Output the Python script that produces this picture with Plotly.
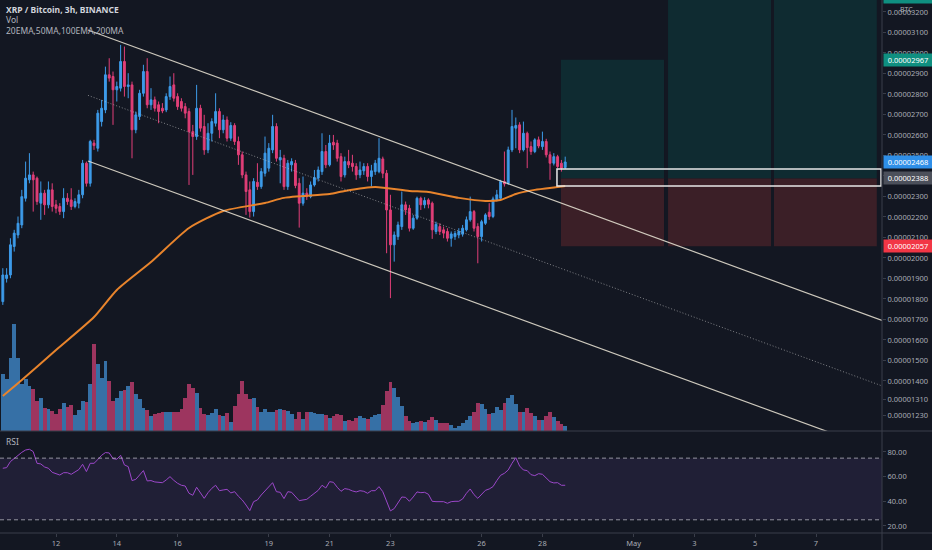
import pandas as pd
import plotly.graph_objects as go

# ---------------- data (prices in units of 1e-8 BTC) ----------------
start_time = "2021-04-10 06:00"
opens = [1787,1900,1917,2056,2112,2161,2291,2381,2405,2389,2267,2316,2259,2332,2259,2251,2226,2291,2283,2251,
         2267,2308,2462,2364,2560,2535,2665,2722,2893,2885,2820,2828,2958,2836,2844,2625,2690,2803,2909,2747,
         2771,2747,2730,2722,2787,2844,2787,2763,2738,2714,2616,2592,2730,2641,2527,2608,2657,2714,2625,2673,
         2584,2646,2568,2503,2405,2332,2226,2369,2348,2413,2438,2527,2641,2478,2486,2348,2454,2462,2364,2267,
         2316,2299,2356,2389,2421,2519,2454,2564,2560,2494,2405,2470,2462,2446,2405,2425,2446,2397,2421,2421,
         2483,2413,2234,2064,2104,2153,2259,2242,2145,2194,2291,2259,2283,2267,2129,2153,2137,2129,2096,2104,
         2112,2116,2137,2186,2226,2153,2104,2169,2223,2202,2283,2291,2373,2364,2527,2633,2649,2527,2608,2543,
         2519,2576,2543,2568,2503,2462,2494,2462,2441]
highs = [1950,1950,2096,2137,2202,2332,2470,2511,2421,2397,2373,2332,2373,2364,2283,2267,2340,2316,2340,2291,
         2332,2478,2470,2576,2576,2722,2771,2933,2974,2909,2860,3039,3031,2901,2860,2714,2820,2942,2974,2828,
         2787,2763,2755,2803,2885,2901,2803,2779,2755,2730,2649,2844,2747,2698,2657,2681,2803,2730,2698,2690,
         2662,2657,2592,2519,2421,2373,2389,2462,2438,2592,2560,2698,2657,2527,2503,2478,2486,2478,2389,2397,
         2340,2373,2429,2446,2608,2551,2600,2600,2576,2511,2494,2527,2503,2462,2470,2462,2462,2454,2478,2584,
         2494,2429,2308,2129,2177,2324,2275,2259,2210,2299,2299,2296,2291,2275,2177,2169,2153,2145,2129,2132,
         2145,2161,2202,2299,2234,2169,2186,2218,2267,2299,2332,2381,2519,2543,2722,2685,2662,2665,2616,2568,
         2584,2592,2616,2581,2519,2511,2503,2478,2494]
lows = [1771,1880,1901,2031,2096,2145,2275,2364,2226,2259,2186,2210,2242,2226,2218,2210,2194,2259,2234,2242,
        2242,2291,2348,2348,2527,2519,2641,2706,2860,2649,2763,2812,2787,2779,2486,2608,2673,2787,2730,2722,
        2714,2657,2706,2711,2771,2763,2722,2714,2681,2356,2405,2576,2616,2503,2511,2568,2641,2584,2608,2568,
        2571,2551,2454,2389,2210,2197,2202,2332,2337,2397,2421,2511,2470,2364,2332,2332,2421,2340,2148,2255,
        2283,2291,2348,2373,2405,2438,2446,2527,2470,2373,2392,2438,2421,2381,2389,2405,2373,2348,2405,2413,
        2389,2023,1804,1982,2088,2137,2210,2129,2137,2186,2234,2242,2242,2093,2116,2112,2096,2080,2055,2088,
        2096,2104,2129,2177,2129,1974,2080,2161,2186,2194,2275,2283,2348,2356,2516,2535,2511,2519,2438,2503,
        2511,2535,2527,2490,2381,2451,2438,2421,2434]
closes = [1917,1917,2064,2121,2169,2299,2389,2405,2381,2275,2316,2259,2332,2251,2242,2226,2291,2275,2251,2275,
          2308,2462,2364,2568,2548,2706,2730,2893,2877,2820,2836,2958,2836,2844,2625,2698,2803,2909,2747,2771,
          2730,2714,2717,2787,2836,2779,2738,2730,2706,2616,2592,2730,2633,2527,2608,2665,2714,2625,2673,2584,
          2646,2568,2503,2405,2324,2226,2373,2348,2421,2511,2535,2641,2486,2490,2348,2462,2470,2353,2267,2316,
          2299,2356,2392,2429,2519,2454,2560,2551,2486,2397,2470,2454,2446,2405,2429,2446,2397,2425,2462,2486,
          2413,2234,2064,2112,2161,2259,2234,2145,2194,2291,2259,2280,2262,2137,2164,2129,2121,2096,2117,2119,
          2129,2145,2186,2226,2145,2104,2177,2210,2202,2288,2308,2373,2361,2527,2641,2646,2527,2608,2538,2519,
          2576,2546,2568,2503,2462,2494,2446,2438,2468]
volumes = [57,52,73,107,73,47,52,45,42,30,33,23,22,20,17,22,28,24,26,16,
           21,30,29,47,87,67,53,70,50,30,33,40,41,45,49,37,32,23,21,15,
           17,18,19,19,19,19,19,22,33,47,43,38,23,17,16,18,22,16,15,18,
           9,25,37,50,37,32,33,24,19,22,19,19,21,22,21,20,17,12,19,12,
           19,19,18,17,17,16,13,15,17,16,10,11,10,13,15,13,12,14,16,17,
           26,40,49,43,34,25,15,10,8,9,10,9,11,14,11,8,8,8,6,3,
           5,8,11,15,19,28,27,22,17,18,24,21,28,33,36,27,19,19,23,18,
           15,11,11,15,19,14,10,7,5]
rsi = [66.8,67.3,72.2,74.9,77.3,79.7,81.6,82.2,80.3,70.8,
       70.3,67.8,66.8,63.5,62.4,61.3,63.2,63.2,61.9,63.5,
       65.7,70.0,64.1,70.8,70.8,73.8,77.3,79.5,79.2,74.6,
       74.1,77.3,69.5,68.1,56.8,57.8,61.3,64.9,56.5,56.8,
       55.7,55.1,55.1,57.3,60.0,57.0,54.6,53.0,52.4,46.5,
       44.9,51.4,47.0,42.4,47.0,50.5,53.0,48.6,49.2,49.7,
       46.8,47.8,44.1,41.1,37.0,32.4,39.7,41.1,45.1,48.6,
       51.9,55.1,47.8,47.3,42.2,47.8,47.3,43.8,40.5,41.1,
       41.6,44.1,46.5,48.9,53.0,50.8,55.9,55.4,51.4,48.1,
       50.3,49.7,48.4,47.6,48.6,48.1,46.5,48.6,48.6,51.9,
       47.8,39.7,32.2,34.1,38.4,43.5,43.2,40.0,43.5,47.6,
       47.0,47.3,45.7,40.0,39.7,39.7,39.7,38.4,39.7,40.0,
       40.0,41.9,46.5,50.0,45.4,42.4,45.7,48.9,50.0,51.9,
       56.8,61.1,62.7,65.4,70.8,75.4,68.6,65.4,64.9,61.6,
       60.8,62.4,61.9,59.2,55.9,54.9,55.1,53.0,53.0]
for arr in (opens, highs, lows, closes, volumes, rsi):
    assert len(arr) == 149, len(arr)

# 100 EMA read at selected candles (0-based candle index)
ema_idx = [0, 5, 14, 24, 30, 39, 49, 58, 69, 74, 86, 90, 98, 107, 112, 120, 127, 131, 135, 140, 146, 148]
ema_val = [1327, 1405, 1551, 1712, 1844, 1980, 2146, 2229, 2268, 2293, 2312, 2327, 2346, 2327, 2322,
           2293, 2278, 2283, 2312, 2332, 2346, 2351]

# parallel channel
chan_t = ["2021-04-13 01:15", "2021-05-09 04:06"]
chan_upper = [3112, 1695]
chan_mid = [2793, 1376]
chan_lower = [2473, 1056]

# long position tools
box_start = ["2021-04-28 14:40", "2021-05-02 03:10", "2021-05-05 14:50"]
box_end = ["2021-05-02 00:00", "2021-05-05 12:30", "2021-05-09 00:00"]
box_target = [2967, 3268, 3268]
entry_price = 2388
stop_price = 2057
zone_t = ["2021-04-28 11:30", "2021-05-09 03:20"]
zone_p = [2351, 2434]

price_ticks = [1230, 1310, 1400, 1500, 1600, 1700, 1800, 1900, 2000, 2100, 2200, 2300,
               2400, 2500, 2600, 2700, 2800, 2900, 3000, 3100, 3200]
# (label value, position on axis, colour)
price_labels = [(3268, 3257, "#0f8f80"), (2967, 2967, "#0f8f80"), (2468, 2468, "#2f8fe8"),
                (2388, 2388, "#4c505b"), (2057, 2057, "#f23645")]
date_ticks = ["2021-04-12", "2021-04-14", "2021-04-16", "2021-04-19", "2021-04-21", "2021-04-23",
              "2021-04-26", "2021-04-28", "2021-05-01", "2021-05-03", "2021-05-05", "2021-05-07"]
date_text = ["12", "14", "16", "19", "21", "23", "26", "28", "May", "3", "5", "7"]
rsi_ticks = [20, 40, 60, 80]

# ---------------- style ----------------
BG = "#131722"
UP = "#3d9be9"
DN = "#e23f78"
VOL_UP = "#3670a6"
VOL_DN = "#9d355f"
TXT = "#a9acb5"
LINE = "#3a3e4a"
FONT = "Noto Sans"

W, H = 932, 550
ML, MR, MT, MB = 0, 50, 0, 17
PH = H - MT - MB  # 533
main_bot = 102 / PH

def fmt(v):
    return "0.%08d" % v

times = pd.date_range(start_time, periods=len(opens), freq="3h")
vol_colors = [VOL_UP if c >= o else VOL_DN for o, c in zip(opens, closes)]

fig = go.Figure()
fig.add_trace(go.Bar(x=times, y=volumes, marker_color=vol_colors, marker_line_width=0,
                     width=3 * 3600 * 1000, xaxis="x", yaxis="y3", hoverinfo="skip"))
fig.add_trace(go.Candlestick(x=times, open=opens, high=highs, low=lows, close=closes,
                             increasing=dict(line=dict(color=UP, width=1), fillcolor=UP),
                             decreasing=dict(line=dict(color=DN, width=1), fillcolor=DN),
                             whiskerwidth=0, xaxis="x", yaxis="y"))
fig.add_trace(go.Scatter(x=[times[i] for i in ema_idx], y=ema_val, mode="lines",
                         line=dict(color="#e8842c", width=2, shape="spline", smoothing=0.6),
                         xaxis="x", yaxis="y"))
for vals, dash, wdt, col in [(chan_upper, "solid", 1.2, "rgba(225,220,205,0.9)"),
                             (chan_lower, "solid", 1.2, "rgba(225,220,205,0.9)"),
                             (chan_mid, "1px,2px", 0.8, "rgba(200,200,200,0.75)")]:
    fig.add_trace(go.Scatter(x=chan_t, y=vals, mode="lines",
                             line=dict(color=col, width=wdt, dash=dash), xaxis="x", yaxis="y"))
fig.add_trace(go.Scatter(x=times, y=rsi, mode="lines", line=dict(color="#9b47c9", width=1),
                         xaxis="x2", yaxis="y2"))

shapes = []
for s, e, t in zip(box_start, box_end, box_target):
    shapes.append(dict(type="rect", xref="x", yref="y", x0=s, x1=e, y0=entry_price, y1=t,
                       fillcolor="#0f2b31", line=dict(width=0), layer="below"))
    shapes.append(dict(type="rect", xref="x", yref="y", x0=s, x1=e, y0=stop_price, y1=entry_price,
                       fillcolor="#3b1f27", line=dict(width=0), layer="below"))
shapes.append(dict(type="rect", xref="x", yref="y", x0=zone_t[0], x1=zone_t[1], y0=zone_p[0], y1=zone_p[1],
                   line=dict(color="#e8e8e8", width=1.5), fillcolor="rgba(0,0,0,0)"))
# RSI band
shapes.append(dict(type="rect", xref="paper", yref="y2", x0=0, x1=1, y0=25, y1=75,
                   fillcolor="rgba(126,87,194,0.13)", line=dict(width=0), layer="below"))
for lvl in (75, 25):
    shapes.append(dict(type="line", xref="paper", yref="y2", x0=0, x1=1, y0=lvl, y1=lvl,
                       line=dict(color="rgba(190,190,200,0.75)", width=1, dash="4px,3px")))
# pane borders
shapes.append(dict(type="line", xref="paper", yref="paper", x0=0, x1=W / (W - MR), y0=main_bot, y1=main_bot,
                   line=dict(color=LINE, width=1)))
shapes.append(dict(type="line", xref="paper", yref="paper", x0=0, x1=W / (W - MR), y0=0, y1=0,
                   line=dict(color=LINE, width=1)))
shapes.append(dict(type="line", xref="paper", yref="paper", x0=1, x1=1, y0=-MB / PH, y1=1,
                   line=dict(color=LINE, width=1)))

annotations = []
for val, pos, col in price_labels:
    annotations.append(dict(xref="paper", yref="y", x=1, y=pos, xanchor="left", yanchor="middle",
                            xshift=1, yshift=(3 if pos != val else 0), text=fmt(val), showarrow=False,
                            bgcolor=col, width=46,
                            font=dict(family=FONT, size=7.5, color="#ffffff"), borderpad=1))
annotations.append(dict(xref="paper", yref="paper", x=(W - 26) / (W - MR), y=1 - 9 / PH, text="BTC",
                        showarrow=False, xanchor="center", yanchor="middle",
                        font=dict(family=FONT, size=7, color=TXT)))
legend_lines = [("<b>XRP / Bitcoin, 3h, BINANCE</b>", 10, "#d1d4dc"), ("Vol", 20, "#b2b5be"),
                ("20EMA,50MA,100EMA,200MA", 30, "#b2b5be")]
for txt, yy, col in legend_lines:
    annotations.append(dict(xref="paper", yref="paper", x=0.005, y=1 - yy / PH, text=txt, showarrow=False,
                            xanchor="left", yanchor="middle", font=dict(family=FONT, size=8.5, color=col)))
annotations.append(dict(xref="paper", yref="paper", x=0.005, y=1 - 441 / PH, text="RSI", showarrow=False,
                        xanchor="left", yanchor="middle", font=dict(family=FONT, size=8.5, color="#b2b5be")))

x_range = ["2021-04-10 03:47", "2021-05-09 04:06"]
tickfont = dict(family=FONT, size=7.5, color=TXT)
fig.update_layout(
    width=W, height=H, margin=dict(l=ML, r=MR, t=MT, b=MB),
    paper_bgcolor=BG, plot_bgcolor=BG, showlegend=False, bargap=0,
    shapes=shapes, annotations=annotations,
    xaxis=dict(domain=[0, 1], anchor="y3", range=x_range, showticklabels=False, showgrid=False,
               zeroline=False, rangeslider=dict(visible=False), ticks=""),
    xaxis2=dict(domain=[0, 1], anchor="y2", matches="x", range=x_range, tickvals=date_ticks,
                ticktext=date_text, showgrid=False, zeroline=False, ticks="outside", ticklen=3,
                tickcolor=LINE, tickfont=tickfont),
    yaxis3=dict(domain=[main_bot, 1], anchor="x", range=[0, 431], visible=False, fixedrange=True),
    yaxis=dict(overlaying="y3", side="right", anchor="x", range=[1156, 3258], tickvals=price_ticks,
               ticktext=[fmt(v) for v in price_ticks], showgrid=False, zeroline=False, ticks="outside",
               ticklen=3, tickcolor=LINE, tickfont=tickfont, automargin=False),
    yaxis2=dict(domain=[0, main_bot], anchor="x2", side="right", range=[14.3, 97], tickvals=rsi_ticks,
                ticktext=["%.2f" % v for v in rsi_ticks], showgrid=False, zeroline=False, ticks="outside",
                ticklen=3, tickcolor=LINE, tickfont=tickfont, automargin=False),
)
fig.write_html("out.html", config={"displayModeBar": False},
               post_script="document.body.style.margin='0';document.body.style.overflow='hidden';"
                           "document.body.style.background='%s';" % BG)
